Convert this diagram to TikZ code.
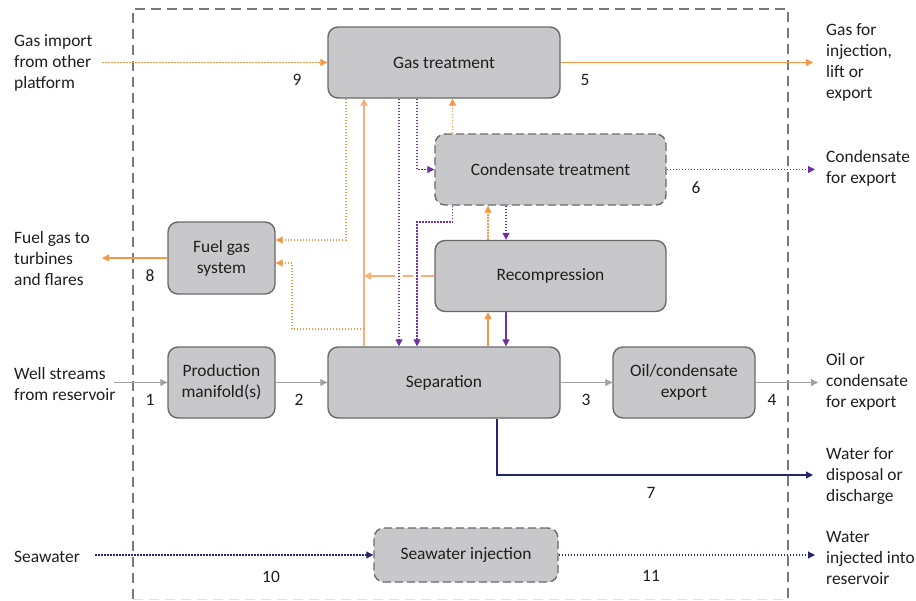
\documentclass[tikz,border=0pt]{standalone}
\usepackage{fontspec}
\setmainfont{Carlito}
\usetikzlibrary{arrows.meta,calc}
\definecolor{org}{HTML}{F79646}
\definecolor{orgl}{HTML}{F9AE78}
\definecolor{pur}{HTML}{7030A0}
\definecolor{nav}{HTML}{26266F}
\definecolor{gry}{HTML}{A0A0A0}
\definecolor{boxfill}{HTML}{C8C8CA}
\definecolor{boxline}{HTML}{6A6A6A}
\definecolor{txt}{HTML}{1E1E1E}
\begin{document}
\begin{tikzpicture}[x=1pt,y=-1pt,
  font=\fontsize{17.4}{21}\selectfont,
  proc/.style={draw=boxline, fill=boxfill, line width=1.4pt, rounded corners=10pt, inner sep=0pt, align=center, text=txt},
  dproc/.style={proc, dash pattern=on 8pt off 4pt},
  ext/.style={anchor=west, align=left, inner sep=0pt, text=txt},
  num/.style={inner sep=0pt, text=txt},
  tip/.style={-{Triangle[length=7pt,width=7pt]}},
  orgsolid/.style={tip, draw=org, line width=1.2pt},
  orglight/.style={tip, draw=orgl, line width=1.7pt},
  orgdot/.style={tip, draw=org, line width=1.1pt, dash pattern=on 1.5pt off 1.5pt},
  purdot/.style={tip, draw=pur, line width=1.1pt, dash pattern=on 1.5pt off 1.5pt},
  pursolid/.style={tip, draw=pur, line width=1.2pt},
  navsolid/.style={tip, draw=nav, line width=1.2pt},
  navdot/.style={tip, draw=nav, line width=1.1pt, dash pattern=on 1.5pt off 1.5pt},
  grysolid/.style={tip, draw=gry, line width=1.2pt},
  frame/.style={draw=boxline!90, line width=1.4pt, dash pattern=on 10pt off 6pt}
]
\useasboundingbox (0,0) rectangle (916,600);

% outer boundary
\draw[frame] (133,599) -- (133,9) -- (788,9) -- (788,599);
\draw[draw=gray!25, line width=1pt, dash pattern=on 10pt off 6pt] (133,599) -- (788,599);

% process boxes
\node[proc, minimum width=232pt, minimum height=71pt] (gt) at (444,62.5) {Gas treatment};
\node[dproc, minimum width=231pt, minimum height=71pt] (ct) at (550.5,169.5) {Condensate treatment};
\node[proc, minimum width=231pt, minimum height=71pt] (rc) at (550.5,276) {Recompression};
\node[proc, minimum width=107pt, minimum height=72pt] (fg) at (221.5,258) {Fuel gas\\system};
\node[proc, minimum width=107pt, minimum height=71pt] (pm) at (221.5,382.5) {Production\\manifold(s)};
\node[proc, minimum width=232pt, minimum height=71pt] (sep) at (444,382.5) {Separation};
\node[proc, minimum width=142pt, minimum height=71pt] (oe) at (684,382.5) {Oil/condensate\\export};
\node[dproc, minimum width=184pt, minimum height=54pt] (si) at (466,555) {Seawater injection};

% external texts
\node[ext] (tgi) at (14,63) {Gas import\\from other\\platform};
\node[ext] (tfg) at (14,258.5) {Fuel gas to\\turbines\\and flares};
\node[ext] (tws) at (14,384) {Well streams\\from reservoir};
\node[ext] (tsw) at (14,557) {Seawater};
\node[ext] (tgo) at (826,62.5) {Gas for\\injection,\\lift or\\export};
\node[ext] (tco) at (826,168.5) {Condensate\\for export};
\node[ext] (too) at (826,382) {Oil or\\condensate\\for export};
\node[ext] (two) at (826,476) {Water for\\disposal or\\discharge};
\node[ext] (twi) at (826,558) {Water\\injected into\\reservoir};

% stream numbers
\node[num] (n1) at (150,400) {1};
\node[num] (n2) at (299,400) {2};
\node[num] (n3) at (586,400) {3};
\node[num] (n4) at (772,400) {4};
\node[num] (n5) at (585,80) {5};
\node[num] (n6) at (696,188) {6};
\node[num] (n7) at (651,493) {7};
\node[num] (n8) at (150,276) {8};
\node[num] (n9) at (297,80) {9};
\node[num] (n10) at (271,577) {10};
\node[num] (n11) at (651,576) {11};

% free ends and guide coordinates
\coordinate (gin) at (102,62.5);
\coordinate (gout) at (813,62.5);
\coordinate (cout) at (815,169.5);
\coordinate (fout) at (102,258);
\coordinate (win) at (114,382.5);
\coordinate (oout) at (818,382.5);
\coordinate (wout) at (813,475);
\coordinate (swin) at (95,555);
\coordinate (swout) at (815,555);
\coordinate (v0) at (292,0);
\coordinate (v1) at (346,0);
\coordinate (v2) at (364,0);
\coordinate (v3) at (399,0);
\coordinate (v4) at (417,0);
\coordinate (v5) at (452.5,0);
\coordinate (v6) at (488,0);
\coordinate (v7) at (506,0);
\coordinate (v8) at (497,0);
\coordinate (h1) at (0,240);
\coordinate (h2) at (0,329);
\coordinate (h3) at (0,263);
\coordinate (h4) at (0,222);

% external flows
\draw[orgdot] (gin) -- (gt.west);
\draw[orgsolid] (gt.east) -- (gout);
\draw[purdot] (ct.east) -- (cout);
\draw[orgsolid] (fg.west) -- (fout);
\draw[grysolid] (win) -- (pm.west);
\draw[grysolid] (pm.east) -- (sep.west);
\draw[grysolid] (sep.east) -- (oe.west);
\draw[grysolid] (oe.east) -- (oout);
\draw[navsolid] (sep.south -| v8) |- (wout);
\draw[navdot] (swin) -- (si.west);
\draw[navdot] (si.east) -- (swout);

% internal gas flows
\draw[orgdot] (gt.south -| v1) |- (fg.east |- h1);
\draw[orglight] (sep.north -| v2) -- (gt.south -| v2);
\draw[orgdot] (v2 |- h2) -- (v0 |- h2) -- (v0 |- h3) -- (fg.east |- h3);
\draw[orglight] (rc.west) -- (v2 |- rc.west);
\fill[white] ($(v3 |- rc.west)+(-4,-2.5)$) rectangle ($(v3 |- rc.west)+(4,2.5)$);
\fill[white] ($(v4 |- rc.west)+(-4,-2.5)$) rectangle ($(v4 |- rc.west)+(4,2.5)$);
\draw[orgdot] (ct.north -| v5) -- (gt.south -| v5);
\draw[orgdot] (rc.north -| v6) -- (ct.south -| v6);
\draw[orgsolid] (sep.north -| v6) -- (rc.south -| v6);

% internal liquid flows
\draw[purdot] (gt.south -| v3) -- (sep.north -| v3);
\draw[purdot] (gt.south -| v4) |- (ct.west);
\draw[purdot] (ct.south -| v5) -- (v5 |- h4) -- (v4 |- h4) -- (sep.north -| v4);
\draw[purdot] (ct.south -| v7) -- (rc.north -| v7);
\draw[pursolid] (rc.south -| v7) -- (sep.north -| v7);
\end{tikzpicture}
\end{document}
